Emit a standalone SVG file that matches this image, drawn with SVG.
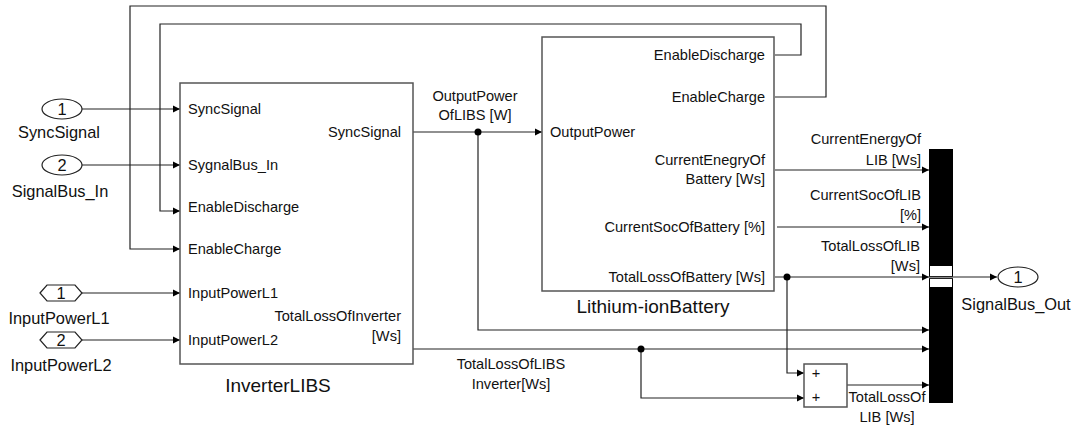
<svg xmlns="http://www.w3.org/2000/svg" width="1077" height="428" viewBox="0 0 1077 428">
  <style>
    .wire { fill: none; stroke: #222; stroke-width: 1.2; }
    .block { fill: #fff; stroke: #555; stroke-width: 1.5; }
    .port { fill: #fff; stroke: #222; stroke-width: 1.2; }
    text { font-family: "Liberation Sans", Arial, sans-serif; fill: #111; }
    .t { font-size: 14.6px; }
    .lbl { font-size: 16.4px; }
    .title { font-size: 19px; }
    .r { text-anchor: end; }
    .c { text-anchor: middle; }
    .dot { fill: #000; }
  </style>
  <defs>
    <marker id="arrow" markerWidth="8" markerHeight="8" refX="7" refY="4" orient="auto" markerUnits="userSpaceOnUse">
      <path d="M0,0.5 L7,4 L0,7.5 Z" fill="#000"/>
    </marker>
  </defs>

  <rect width="1077" height="428" fill="#fff"/>

  <!-- connectors -->
  <g id="connectors">
    <path class="wire" d="M82,109 H180" marker-end="url(#arrow)"/>
    <path class="wire" d="M82,165 H180" marker-end="url(#arrow)"/>
    <path class="wire" d="M775,55 H801 V24 H160 V211 H180" marker-end="url(#arrow)"/>
    <path class="wire" d="M775,97 H826 V6 H130 V249 H180" marker-end="url(#arrow)"/>
    <path class="wire" d="M82,293 H180" marker-end="url(#arrow)"/>
    <path class="wire" d="M82,340 H180" marker-end="url(#arrow)"/>
    <path class="wire" d="M413,132 H542" marker-end="url(#arrow)"/>
    <path class="wire" d="M478,132 V330 H929" marker-end="url(#arrow)"/>
    <path class="wire" d="M413,349 H929" marker-end="url(#arrow)"/>
    <path class="wire" d="M641,349 V398 H804" marker-end="url(#arrow)"/>
    <path class="wire" d="M775,170 H929" marker-end="url(#arrow)"/>
    <path class="wire" d="M777,227 H929" marker-end="url(#arrow)"/>
    <path class="wire" d="M775,277 H929" marker-end="url(#arrow)"/>
    <path class="wire" d="M787,277 V373 H804" marker-end="url(#arrow)"/>
    <path class="wire" d="M847,385 H929" marker-end="url(#arrow)"/>
    <path class="wire" d="M953,277 H997" marker-end="url(#arrow)"/>
    <circle class="dot" cx="478" cy="132" r="3.5"/>
    <circle class="dot" cx="641" cy="349" r="3.5"/>
    <circle class="dot" cx="787" cy="277" r="3.5"/>
    <!-- signal labels -->
    <text class="t c" x="475" y="101">OutputPower</text>
    <text class="t c" x="475" y="120">OfLIBS [W]</text>
    <text class="t r" x="921" y="144">CurrentEnergyOf</text>
    <text class="t r" x="921" y="165">LIB [Ws]</text>
    <text class="t r" x="921" y="200">CurrentSocOfLIB</text>
    <text class="t r" x="921" y="220">[%]</text>
    <text class="t r" x="920" y="251">TotalLossOfLIB</text>
    <text class="t r" x="920" y="271">[Ws]</text>
    <text class="t c" x="511" y="369">TotalLossOfLIBS</text>
    <text class="t c" x="511" y="389">Inverter[Ws]</text>
    <text class="t c" x="887" y="402">TotalLossOf</text>
    <text class="t c" x="887" y="422">LIB [Ws]</text>
  </g>

  <!-- input ports -->
  <g id="in-SyncSignal">
    <ellipse class="port" cx="62" cy="109" rx="20" ry="10"/>
    <text class="lbl c" x="62" y="115">1</text>
    <text class="lbl c" x="59" y="138">SyncSignal</text>
  </g>
  <g id="in-SignalBus_In">
    <ellipse class="port" cx="62" cy="165" rx="20" ry="10"/>
    <text class="lbl c" x="62" y="171">2</text>
    <text class="lbl c" x="60" y="197">SignalBus_In</text>
  </g>
  <g id="from-InputPowerL1">
    <polygon class="port" points="40,293 47,285 75,285 82,293 75,301 47,301"/>
    <text class="lbl c" x="61" y="299">1</text>
    <text class="lbl c" x="59" y="324">InputPowerL1</text>
  </g>
  <g id="from-InputPowerL2">
    <polygon class="port" points="40,340 47,332 75,332 82,340 75,348 47,348"/>
    <text class="lbl c" x="61" y="346">2</text>
    <text class="lbl c" x="61" y="371">InputPowerL2</text>
  </g>

  <!-- inverter subsystem -->
  <g id="InverterLIBS">
    <rect class="block" x="180" y="83" width="233" height="281"/>
    <text class="t" x="188" y="114">SyncSignal</text>
    <text class="t" x="188" y="170">SygnalBus_In</text>
    <text class="t" x="188" y="212">EnableDischarge</text>
    <text class="t" x="188" y="254">EnableCharge</text>
    <text class="t" x="188" y="298">InputPowerL1</text>
    <text class="t" x="188" y="345">InputPowerL2</text>
    <text class="t r" x="401" y="137">SyncSignal</text>
    <text class="t r" x="401" y="321">TotalLossOfInverter</text>
    <text class="t r" x="401" y="341">[Ws]</text>
    <text class="title c" x="278" y="392">InverterLIBS</text>
  </g>

  <!-- battery subsystem -->
  <g id="Lithium-ionBattery">
    <rect class="block" x="542" y="37" width="232" height="254"/>
    <text class="t r" x="765" y="60">EnableDischarge</text>
    <text class="t r" x="765" y="102">EnableCharge</text>
    <text class="t" x="550" y="137">OutputPower</text>
    <text class="t r" x="765" y="165">CurrentEnegryOf</text>
    <text class="t r" x="765" y="184">Battery [Ws]</text>
    <text class="t r" x="765" y="232">CurrentSocOfBattery [%]</text>
    <text class="t r" x="765" y="282">TotalLossOfBattery [Ws]</text>
    <text class="title c" x="653" y="313">Lithium-ionBattery</text>
  </g>

  <!-- sum of losses -->
  <g id="Sum">
    <rect class="block" x="804" y="364" width="43" height="43" stroke-width="1.2"/>
    <text class="t c" x="816" y="378" font-size="13">+</text>
    <text class="t c" x="816" y="402" font-size="13">+</text>
  </g>

  <!-- bus creator -->
  <g id="BusCreator">
    <rect x="929" y="149" width="24" height="254" fill="#000"/>
    <rect x="930" y="266" width="22" height="10" fill="#fff"/>
    <rect x="930" y="279" width="22" height="8" fill="#fff"/>
    <line x1="929" y1="277.5" x2="953" y2="277.5" stroke="#888" stroke-width="1.5"/>
  </g>

  <!-- output port -->
  <g id="out-SignalBus_Out">
    <ellipse class="port" cx="1018" cy="277" rx="20" ry="10"/>
    <text class="lbl c" x="1018" y="283">1</text>
    <text class="lbl c" x="1016" y="310">SignalBus_Out</text>
  </g>
</svg>
